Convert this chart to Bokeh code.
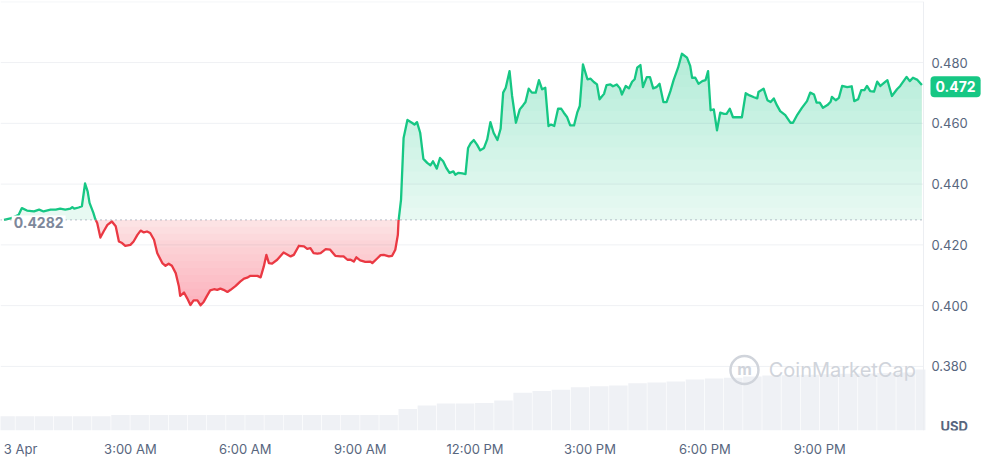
import numpy as np
from bokeh.plotting import figure
from bokeh.models import Range1d, FixedTicker, Label, Span
from bokeh.core.properties import value
from bokeh.embed import file_html
from bokeh.resources import INLINE

# ---------------- data ----------------
# minutes after 00:00 on 3 Apr
times = [
    -18, -8, 5, 10, 18, 29, 37, 44, 55, 63,
    70, 78, 86, 89, 92, 99, 104, 109, 113, 116,
    122, 125, 128, 133, 138, 144, 151, 157, 162, 167,
    172, 180, 185, 191, 196, 201, 206, 211, 217, 222,
    230, 235, 240, 245, 251, 256, 258, 264, 269, 274,
    279, 285, 290, 295, 300, 305, 311, 316, 321, 326,
    332, 337, 345, 352, 358, 363, 368, 379, 384, 389,
    393, 397, 402, 410, 420, 431, 436, 444, 452, 457,
    462, 467, 473, 478, 486, 493, 501, 509, 514, 520,
    525, 530, 534, 540, 548, 556, 559, 567, 572, 577,
    585, 590, 595, 599, 600, 604, 608, 614, 621, 625,
    629, 634, 639, 645, 650, 654, 660, 665, 670, 675,
    680, 686, 689, 694, 700, 705, 709, 713, 718, 723,
    728, 734, 739, 744, 749, 755, 760, 764, 768, 774,
    778, 784, 790, 795, 799, 804, 809, 815, 820, 825,
    830, 835, 839, 844, 850, 855, 859, 864, 869, 875,
    880, 884, 889, 896, 901, 906, 911, 915, 922, 926,
    932, 936, 942, 947, 950, 956, 961, 966, 970, 974,
    979, 983, 989, 994, 999, 1004, 1009, 1015, 1020, 1026,
    1031, 1038, 1044, 1052, 1057, 1060, 1065, 1070, 1076, 1081,
    1085, 1089, 1094, 1099, 1104, 1110, 1114, 1119, 1124, 1131,
    1138, 1144, 1150, 1157, 1162, 1164, 1172, 1178, 1183, 1188,
    1193, 1198, 1206, 1214, 1218, 1225, 1232, 1240, 1245, 1251,
    1255, 1260, 1265, 1272, 1277, 1279, 1285, 1290, 1295, 1303,
    1310, 1314, 1320, 1325, 1330, 1334, 1339, 1345, 1350, 1355,
    1363, 1366, 1373, 1381, 1386, 1396, 1401, 1406, 1413, 1420,
]
prices = [
    0.4282, 0.4287, 0.4299, 0.4321, 0.4313, 0.4310, 0.4316, 0.4310, 0.4316, 0.4316,
    0.4319, 0.4316, 0.4319, 0.4324, 0.4319, 0.4323, 0.4327, 0.4402, 0.4376, 0.4338,
    0.4305, 0.4285, 0.4272, 0.4224, 0.4244, 0.4266, 0.4277, 0.4261, 0.4211, 0.4206,
    0.4197, 0.4200, 0.4211, 0.4233, 0.4247, 0.4241, 0.4244, 0.4239, 0.4217, 0.4173,
    0.4140, 0.4131, 0.4138, 0.4131, 0.4107, 0.4063, 0.4032, 0.4043, 0.4024, 0.4002,
    0.4017, 0.4017, 0.4001, 0.4013, 0.4032, 0.4050, 0.4054, 0.4052, 0.4056, 0.4052,
    0.4045, 0.4052, 0.4065, 0.4079, 0.4089, 0.4092, 0.4098, 0.4098, 0.4093, 0.4129,
    0.4167, 0.4140, 0.4138, 0.4151, 0.4175, 0.4162, 0.4167, 0.4197, 0.4195, 0.4187,
    0.4189, 0.4173, 0.4171, 0.4173, 0.4186, 0.4184, 0.4164, 0.4162, 0.4162, 0.4151,
    0.4151, 0.4145, 0.4159, 0.4149, 0.4144, 0.4145, 0.4140, 0.4156, 0.4166, 0.4167,
    0.4162, 0.4164, 0.4184, 0.4233, 0.4277, 0.4349, 0.4552, 0.4611, 0.4602, 0.4596,
    0.4604, 0.4569, 0.4483, 0.4470, 0.4462, 0.4475, 0.4451, 0.4486, 0.4475, 0.4453,
    0.4437, 0.4442, 0.4431, 0.4437, 0.4435, 0.4433, 0.4519, 0.4534, 0.4545, 0.4530,
    0.4511, 0.4519, 0.4547, 0.4604, 0.4569, 0.4545, 0.4582, 0.4701, 0.4717, 0.4772,
    0.4690, 0.4602, 0.4646, 0.4659, 0.4670, 0.4714, 0.4701, 0.4701, 0.4742, 0.4712,
    0.4717, 0.4591, 0.4596, 0.4591, 0.4648, 0.4648, 0.4635, 0.4621, 0.4593, 0.4593,
    0.4635, 0.4657, 0.4794, 0.4745, 0.4747, 0.4736, 0.4728, 0.4679, 0.4697, 0.4726,
    0.4728, 0.4722, 0.4728, 0.4715, 0.4695, 0.4723, 0.4715, 0.4737, 0.4745, 0.4783,
    0.4792, 0.4719, 0.4752, 0.4752, 0.4715, 0.4719, 0.4730, 0.4670, 0.4670, 0.4706,
    0.4742, 0.4783, 0.4829, 0.4816, 0.4789, 0.4750, 0.4750, 0.4730, 0.4739, 0.4742,
    0.4772, 0.4643, 0.4646, 0.4577, 0.4635, 0.4631, 0.4631, 0.4648, 0.4620, 0.4620,
    0.4620, 0.4699, 0.4692, 0.4686, 0.4682, 0.4703, 0.4714, 0.4676, 0.4670, 0.4682,
    0.4659, 0.4640, 0.4627, 0.4602, 0.4602, 0.4629, 0.4651, 0.4673, 0.4701, 0.4695,
    0.4668, 0.4668, 0.4651, 0.4660, 0.4671, 0.4687, 0.4676, 0.4684, 0.4723, 0.4719,
    0.4722, 0.4673, 0.4679, 0.4709, 0.4709, 0.4723, 0.4706, 0.4704, 0.4737, 0.4723,
    0.4737, 0.4742, 0.4690, 0.4712, 0.4723, 0.4753, 0.4739, 0.4750, 0.4743, 0.4726,
]
base_price = 0.4282
base_label = "0.4282"
last_price = 0.472
last_price_label = "0.472"
currency = "USD"

# half-hour volume bars (relative units), start minute of each bar
vol_starts = [-30 + 30 * i for i in range(49)]
volumes = [
    33, 33, 33, 33, 33, 33, 36,
    36, 36, 36, 36, 36, 36, 36, 36, 36, 36, 36, 36, 36, 36,
    50, 58, 63, 63, 64, 70, 88, 92, 95, 101,
    103, 105, 110, 112, 114, 119, 121, 123, 126, 128,
    129, 130, 131, 132, 133, 134, 135, 142,
]

# the first label ("3 Apr") sits slightly right of midnight, as in the source
x_tick_values = [8, 180, 360, 540, 720, 900, 1080, 1260]
x_tick_labels = ["3 Apr", "3:00 AM", "6:00 AM", "9:00 AM", "12:00 PM", "3:00 PM", "6:00 PM", "9:00 PM"]
y_tick_values = [0.38, 0.40, 0.42, 0.44, 0.46, 0.48]
y_tick_labels = ["0.380", "0.400", "0.420", "0.440", "0.460", "0.480"]
y_grid_values = [0.38, 0.40, 0.42, 0.44, 0.46, 0.48, 0.50]

# ---------------- styling ----------------
GREEN = "#16c784"
RED = "#ea3943"
GRID = "#eff1f4"
LABEL = "#58667e"
FONT = "Inter"

X0, X1 = -23.5, 1516.5      # whole canvas width
XE = 1422.5                 # right edge of the price area
Y0, Y1 = 0.3589, 0.5001

p = figure(width=983, height=460, x_range=Range1d(X0, X1), y_range=Range1d(Y0, Y1),
           output_backend="svg", toolbar_location=None,
           min_border_left=0, min_border_right=0, min_border_top=1, min_border_bottom=30)
p.outline_line_color = None
p.background_fill_color = "white"
p.border_fill_color = "white"
p.yaxis.visible = False
p.xgrid.visible = False
p.ygrid.visible = False
p.extra_y_ranges = {"vol": Range1d(0, 1000)}

# gridlines (stop at the price area's right edge)
p.segment(x0=X0, x1=XE, y0=y_grid_values, y1=y_grid_values, line_color=GRID, line_width=1)
p.add_layout(Span(location=XE, dimension="height", line_color="#eceef2", line_width=1))

# volume
vl = np.array(vol_starts, dtype=float)
vr = np.minimum(vl + 29, XE + 3)
p.quad(left=vl, right=vr, bottom=0, top=volumes, y_range_name="vol",
       fill_color="#eff1f5", line_color=None)

n = min(len(times), len(prices))
t = np.array(times[:n], dtype=float)
pr = np.array(prices[:n], dtype=float)


def clip_series(x, y, L, above):
    f = (lambda v: max(v, L)) if above else (lambda v: min(v, L))
    ox, oy = [x[0]], [f(y[0])]
    for i in range(len(x) - 1):
        a, b = y[i] - L, y[i + 1] - L
        if a * b < 0:
            r = a / (a - b)
            ox.append(x[i] + r * (x[i + 1] - x[i]))
            oy.append(L)
        ox.append(x[i + 1])
        oy.append(f(y[i + 1]))
    return ox, oy


# green gradient fill
gx, gy = clip_series(t, pr, base_price, True)
p.varea(x=gx, y1=base_price, y2=gy, fill_color=GREEN, fill_alpha=0.10)
for L in np.linspace(base_price, 0.484, 15)[1:]:
    lx, ly = clip_series(t, pr, L, True)
    p.varea(x=lx, y1=L, y2=ly, fill_color=GREEN, fill_alpha=0.014)

# red gradient fill
rx, ry = clip_series(t, pr, base_price, False)
p.varea(x=rx, y1=ry, y2=base_price, fill_color=RED, fill_alpha=0.14)
for L in np.linspace(base_price, 0.401, 13)[1:]:
    lx, ly = clip_series(t, pr, L, False)
    p.varea(x=lx, y1=ly, y2=L, fill_color=RED, fill_alpha=0.022)

# line split into above / below baseline runs
ax_, ay_ = [t[0]], [pr[0]]
for i in range(n - 1):
    a, b = pr[i] - base_price, pr[i + 1] - base_price
    if a * b < 0:
        r = a / (a - b)
        ax_.append(t[i] + r * (t[i + 1] - t[i]))
        ay_.append(base_price)
    ax_.append(t[i + 1])
    ay_.append(pr[i + 1])


def runs(up):
    xs, ys, cx, cy = [], [], [], []
    for i in range(len(ax_) - 1):
        s = ((ay_[i] + ay_[i + 1]) / 2 - base_price) >= 0
        if s == up:
            if not cx:
                cx, cy = [ax_[i]], [ay_[i]]
            cx.append(ax_[i + 1])
            cy.append(ay_[i + 1])
        elif cx:
            xs.append(cx)
            ys.append(cy)
            cx, cy = [], []
    if cx:
        xs.append(cx)
        ys.append(cy)
    return xs, ys


gxs, gys = runs(True)
rxs, rys = runs(False)
p.multi_line(xs=gxs, ys=gys, line_color=GREEN, line_width=2.3, line_join="round")
p.multi_line(xs=rxs, ys=rys, line_color=RED, line_width=2.3, line_join="round")

# dotted baseline
p.segment(x0=[X0], x1=[XE], y0=[base_price], y1=[base_price], line_color="#8c96a8",
          line_dash="1 4", line_width=1.3)

# y tick labels (right column)
p.text(x=[XE] * len(y_tick_values), y=y_tick_values, text=y_tick_labels,
       text_font=value(FONT), text_font_size="13px", text_color=LABEL,
       text_baseline="middle", text_align="left", x_offset=8)
p.text(x=[XE], y=[0.3605], text=[currency], text_font=value(FONT), text_font_size="13px",
       text_font_style="bold", text_color=LABEL, text_baseline="middle",
       text_align="left", x_offset=17)

# x axis
p.xaxis.ticker = FixedTicker(ticks=x_tick_values)
p.xaxis.major_label_overrides = {v: s for v, s in zip(x_tick_values, x_tick_labels)}
p.xaxis.major_tick_line_color = None
p.xaxis.minor_tick_line_color = None
p.xaxis.major_tick_out = 0
p.xaxis.major_tick_in = 0
p.xaxis.minor_tick_out = 0
p.xaxis.axis_line_color = None
p.xaxis.major_label_text_font = FONT
p.xaxis.major_label_text_font_size = "13px"
p.xaxis.major_label_text_color = LABEL
p.xaxis.major_label_standoff = 10

# watermark
p.scatter(x=[1142], y=[0.3788], marker="circle", size=28, fill_color=None,
          line_color="#d0d4db", line_width=2.5)
p.text(x=[1142], y=[0.3788], text=["m"], text_font=value(FONT), text_font_size="16px",
       text_font_style="bold", text_color="#d0d4db", text_align="center",
       text_baseline="middle", y_offset=-1)
p.text(x=[1180], y=[0.3788], text=["CoinMarketCap"], text_font=value(FONT),
       text_font_size="20px", text_color="#d0d4db", text_baseline="middle")

# baseline value label
p.add_layout(Label(x=-6, y=base_price, text=base_label, text_font=FONT, text_font_size="14px",
                   text_font_style="bold", text_color="#7d879a", text_baseline="middle",
                   background_fill_color="white", y_offset=-3, padding=2))

# last price badge
p.add_layout(Label(x=XE, y=last_price, text=last_price_label, text_font=FONT,
                   text_font_size="14px", text_font_style="bold", text_color="white",
                   text_baseline="middle", text_align="left", background_fill_color=GREEN,
                   border_radius=4, padding=5, x_offset=7))

open("out.html", "w").write(file_html(p, INLINE))
